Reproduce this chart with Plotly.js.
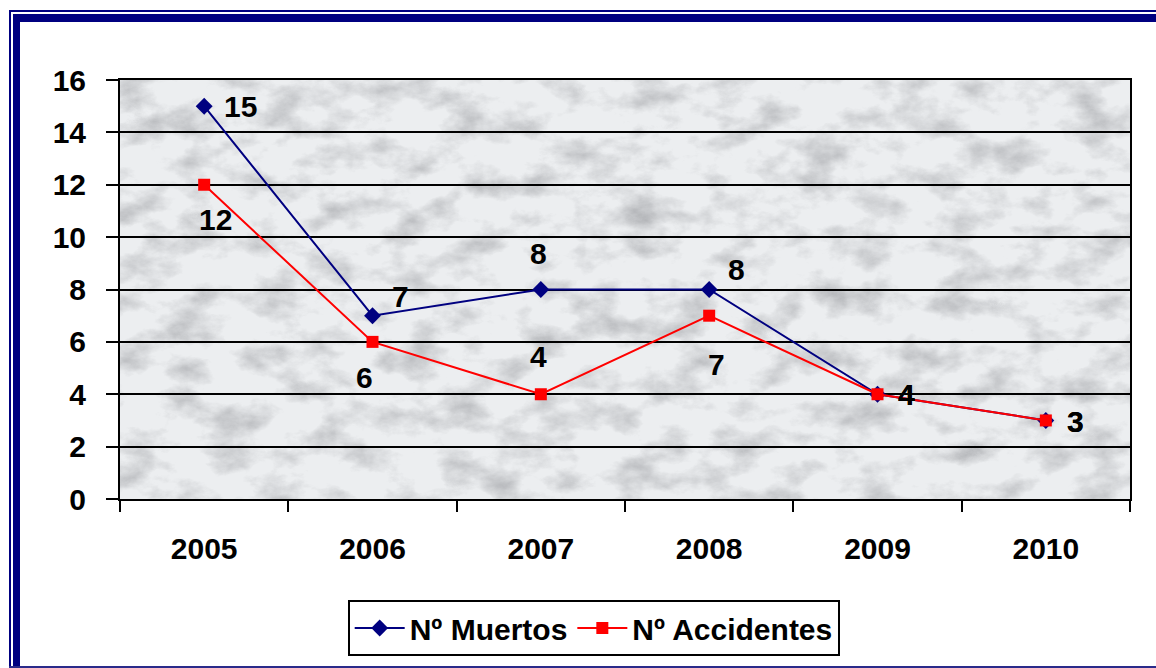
<!DOCTYPE html>
<html>
<head>
<meta charset="utf-8">
<script src="https://cdn.plot.ly/plotly-3.0.1.min.js"></script>
<style>
  html, body { margin: 0; padding: 0; background: #ffffff; }
  #wrap { position: relative; width: 1156px; height: 668px; overflow: hidden; }
  #chart { position: absolute; left: 0; top: 0; width: 1156px; height: 668px; }
  .fr { position: absolute; background: #000080; pointer-events: none; z-index: 5; }
</style>
</head>
<body>
<div id="wrap">
  <div id="chart"></div>
  <div class="fr" style="left:9px; top:10px; width:2px; height:658px;"></div>
  <div class="fr" style="left:9px; top:10px; width:1147px; height:2px;"></div>
  <div class="fr" style="left:13px; top:14px; width:7px; height:654px;"></div>
  <div class="fr" style="left:13px; top:14px; width:1143px; height:8px;"></div>
  <div class="fr" style="left:9px; top:666px; width:1147px; height:2px; background:#2a2a8a;"></div>
</div>
<script>
// ---- data ----
const years = ['2005', '2006', '2007', '2008', '2009', '2010'];
const muertos = [15, 7, 8, 8, 4, 3];
const accidentes = [12, 6, 4, 7, 4, 3];
const seriesNames = ['Nº Muertos', 'Nº Accidentes'];
const yTicks = [0, 2, 4, 6, 8, 10, 12, 14, 16];

// ---- label offsets (style) ----
const offMuertos = [[36, 0], [28, 19], [-2, 36], [27, 20], [29, 0], [30, -1]];
const offAccid = [[11, -35], [-8, -36], [-2, 38], [7, -49], [29, 0], [30, -1]];

const FONT = 'Liberation Sans, Arial, sans-serif';
const FS = 30;

// marble-like background texture
const svg = "<svg xmlns='http://www.w3.org/2000/svg' width='1010' height='419' viewBox='0 0 1010 419'>" +
  "<filter id='f' x='0' y='0' width='100%' height='100%'>" +
  "<feTurbulence type='fractalNoise' baseFrequency='0.022 0.034' numOctaves='6' seed='11'/>" +
  "<feColorMatrix values='0 0 0 0 0.45  0 0 0 0 0.46  0 0 0 0 0.48  2.0 0 0 0 -0.9'/>" +
  "</filter>" +
  "<rect width='1010' height='419' fill='#eceef0'/>" +
  "<rect width='1010' height='419' filter='url(#f)'/>" +
  "</svg>";
const bgSrc = 'data:image/svg+xml;charset=utf-8,' + encodeURIComponent(svg);

const traces = [
  {
    type: 'scatter', mode: 'lines+markers', name: seriesNames[0],
    x: years, y: muertos,
    line: { color: '#000080', width: 2 },
    marker: { symbol: 'diamond', size: 13, color: '#000080' },
    cliponaxis: false
  },
  {
    type: 'scatter', mode: 'lines+markers', name: seriesNames[1],
    x: years, y: accidentes,
    line: { color: '#ff0000', width: 2 },
    marker: { symbol: 'square', size: 12, color: '#ff0000' },
    cliponaxis: false
  }
];

const annotations = [];
function addLabels(vals, offs) {
  vals.forEach((v, i) => {
    annotations.push({
      x: i, y: v, xref: 'x', yref: 'y',
      text: String(v), showarrow: false,
      xshift: offs[i][0], yshift: offs[i][1],
      font: { family: FONT, size: FS, color: '#000000', weight: 'bold' }
    });
  });
}
addLabels(muertos, offMuertos);
addLabels(accidentes, offAccid);

const layout = {
  width: 1156, height: 668,
  margin: { l: 120, r: 26, t: 80, b: 169 },
  paper_bgcolor: 'rgba(0,0,0,0)',
  plot_bgcolor: '#e8eaec',
  font: { family: FONT, size: FS, color: '#000000', weight: 'bold' },
  showlegend: true,
  legend: {
    orientation: 'h', xref: 'paper', yref: 'paper',
    x: 0.469, xanchor: 'center', y: -0.241, yanchor: 'top',
    bgcolor: '#ffffff', bordercolor: '#000000', borderwidth: 2,
    font: { family: FONT, size: FS, color: '#000000', weight: 'bold' },
    itemwidth: 50, tracegroupgap: 0
  },
  xaxis: {
    type: 'category',
    categoryorder: 'array', categoryarray: years,
    range: [-0.5, years.length - 0.5], autorange: false,
    tickson: 'boundaries',
    ticks: 'outside', ticklen: 11, tickwidth: 2, tickcolor: '#000000',
    showline: true, linecolor: '#000000', linewidth: 2, mirror: true,
    showgrid: false, zeroline: false,
    ticklabelstandoff: 22, tickangle: 0,
    tickfont: { family: FONT, size: FS, color: '#000000', weight: 'bold' },
    fixedrange: true
  },
  yaxis: {
    range: [0, 16], autorange: false,
    tickmode: 'array', tickvals: yTicks, ticktext: yTicks.map(String),
    ticks: 'outside', ticklen: 12, tickwidth: 2, tickcolor: '#000000',
    showline: true, linecolor: '#000000', linewidth: 2, mirror: true,
    showgrid: true, gridcolor: '#000000', gridwidth: 2,
    zeroline: false,
    ticklabelstandoff: 14,
    tickfont: { family: FONT, size: FS, color: '#000000', weight: 'bold' },
    fixedrange: true
  },
  images: [{
    source: bgSrc, xref: 'paper', yref: 'paper',
    x: 0, y: 1, sizex: 1, sizey: 1, sizing: 'stretch',
    xanchor: 'left', yanchor: 'top', layer: 'below'
  }],
  annotations: annotations
};

Plotly.newPlot('chart', traces, layout, { displayModeBar: false, staticPlot: true });
</script>
</body>
</html>
